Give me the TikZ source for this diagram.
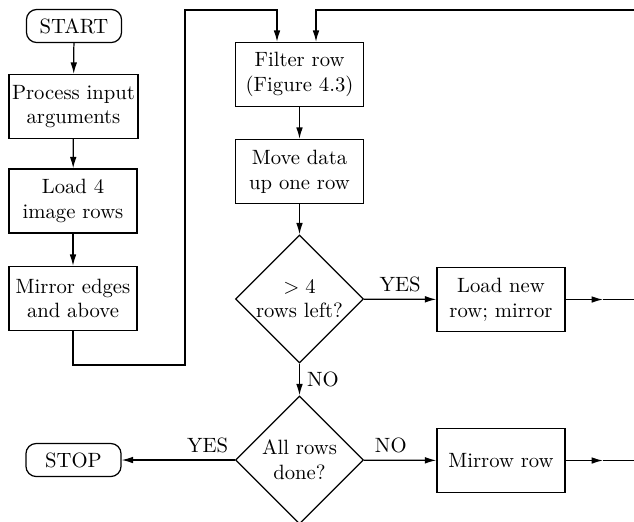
\documentclass[tikz,border=0pt]{standalone}
\usetikzlibrary{shapes.geometric,arrows.meta}

\tikzset{
  flow/.style={
    x=0.017cm, y=-0.017cm,
    box/.style={
        draw,
        rectangle,
        align=center,
        minimum width=62pt,
        minimum height=31pt,
        inner sep=1.5pt,
        line width=0.6pt,
    },
    term/.style={
        draw,
        rounded corners=5pt,
        minimum width=46pt,
        minimum height=16pt,
        line width=0.6pt,
    },
    test/.style={
        draw,
        diamond,
        aspect=1,
        align=center,
        minimum size=62pt,
        inner sep=0pt,
        line width=0.6pt,
    },
    link/.style={-{Latex[length=5.5pt,width=3.2pt]}, line width=0.6pt},
    wire/.style={line width=0.6pt}
  }
}

\begin{document}
\begin{tikzpicture}[flow]
        \useasboundingbox (0,0) rectangle (634,521);
        % left column
        \node[term] (start) at (74,26) {START};
        \node[box] (args) at (73.5,106.5) {Process input\\arguments};
        \node[box] (load) at (73,201) {Load 4\\image rows};
        \node[box] (edges) at (73,298.5) {Mirror edges\\and above};
        \node[term] (stop) at (73.5,460) {STOP};
        % middle column
        \node[box] (filter) at (299.5,74.5) {Filter row\\(Figure 4.3)};
        \node[box] (move) at (299.5,171.5) {Move data\\up one row};
        \node[test] (left) at (299.5,299) {$>4$\\rows left?};
        \node[test] (done) at (299.5,460) {All rows\\done?};
        % right column
        \node[box] (newrow) at (501,299.5) {Load new\\row; mirror};
        \node[box] (mirrow) at (501,460.5) {Mirrow row};

        \coordinate (loopa) at (185,365);
        \coordinate (loopb) at (277,10);
        \coordinate (loopc) at (316,10);
        \coordinate (rtop) at (634,10);
        \coordinate (tipa) at (603,299.5);
        \coordinate (rmid) at (634,299.5);
        \coordinate (tipb) at (603,460.5);
        \coordinate (rbot) at (634,460.5);

        \draw[link] (start) -- (args);
        \draw[link] (args) -- (load);
        \draw[link] (load) -- (edges);
        \draw[link] (edges.south) |- (loopa) |- (loopb) -- (loopb |- filter.north);
        \draw[link] (rtop) -- (loopc) -- (loopc |- filter.north);
        \draw[link] (filter) -- (move);
        \draw[link] (move) -- (left);
        \draw[link] (left) -- (newrow) node[midway,above] (yesa) {YES};
        \draw[link] (newrow) -- (tipa);
        \draw[wire] (tipa) -- (rmid);
        \draw[link] (left) -- (done) node[midway,right] (noa) {NO};
        \draw[link] (done) -- (stop) node[pos=0.24,above] (yesb) {YES};
        \draw[link] (done) -- (mirrow) node[pos=0.37,above] (nob) {NO};
        \draw[link] (mirrow) -- (tipb);
        \draw[wire] (tipb) -- (rbot);
\end{tikzpicture}
\end{document}
